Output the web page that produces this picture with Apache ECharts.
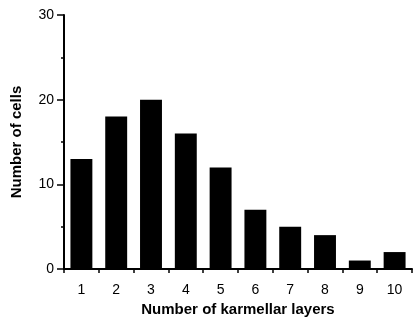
<!DOCTYPE html>
<html>
<head>
<meta charset="utf-8">
<script src="https://cdn.jsdelivr.net/npm/echarts@6/dist/echarts.min.js"></script>
<style>
  html, body { margin: 0; padding: 0; background: #fff; }
  #chart { width: 413px; height: 322px; }
</style>
</head>
<body>
<div id="chart"></div>
<script>
// data
let layers = ['1', '2', '3', '4', '5', '6', '7', '8', '9', '10'];
let cellCounts = [13, 18, 20, 16, 12, 7, 5, 4, 1, 2];
let yTicks = [0, 10, 20, 30];

let chart = echarts.init(document.getElementById('chart'));
let font = 'Liberation Sans, Arial, Helvetica, sans-serif';

chart.setOption({
    animation: false,
    grid: { left: 64, right: 1, top: 15, bottom: 52 },
    xAxis: {
        type: 'category',
        data: layers,
        name: 'Number of karmellar layers',
        nameLocation: 'middle',
        nameGap: 33,
        nameTextStyle: { color: '#000', fontFamily: font, fontWeight: 'bold', fontSize: 15 },
        axisLine: { lineStyle: { color: '#000', width: 2 } },
        axisTick: { show: true, length: 4, lineStyle: { color: '#000', width: 1.5 } },
        axisLabel: { color: '#000', fontFamily: font, fontSize: 14, margin: 14 }
    },
    yAxis: {
        type: 'value',
        min: yTicks[0],
        max: yTicks[yTicks.length - 1],
        interval: 10,
        name: 'Number of cells',
        nameLocation: 'middle',
        nameGap: 40,
        nameTextStyle: { color: '#000', fontFamily: font, fontWeight: 'bold', fontSize: 15 },
        axisLine: { show: true, lineStyle: { color: '#000', width: 2 } },
        axisTick: { show: true, length: 7, lineStyle: { color: '#000', width: 1.5 } },
        minorTick: { show: true, splitNumber: 2, length: 3, lineStyle: { color: '#000', width: 1.5 } },
        axisLabel: { color: '#000', fontFamily: font, fontSize: 14, margin: 10 },
        splitLine: { show: false }
    },
    series: [{
        type: 'bar',
        data: cellCounts,
        barCategoryGap: '37%',
        itemStyle: { color: '#000' }
    }]
});
</script>
</body>
</html>
